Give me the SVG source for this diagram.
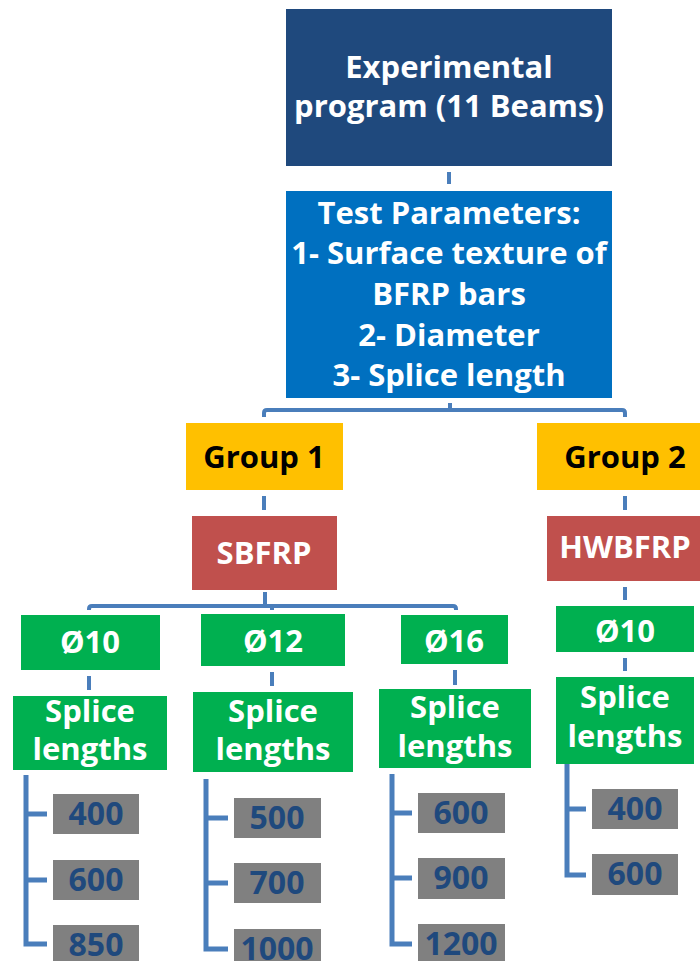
<svg xmlns="http://www.w3.org/2000/svg" width="700" height="961" viewBox="0 0 700 961">
<style>
text{font-family:"Open Sans","Liberation Sans",sans-serif;font-weight:bold;font-size:31px;text-anchor:middle}
.w{fill:#ffffff}
.k{fill:#000000}
.n{fill:#1F497D;font-size:32px}
.c{fill:none;stroke:#4A7EBB;stroke-width:4}
.c5{fill:none;stroke:#4A7EBB;stroke-width:5}
.top{fill:#1F497D}
.blue{fill:#0070C0}
.yel{fill:#FFC000}
.red{fill:#C0504D}
.grn{fill:#00B050}
.gry{fill:#808080}
</style>
<g id="connectors">
<line class="c" x1="449" y1="172" x2="449" y2="184"/>
<line class="c" x1="450" y1="403" x2="450" y2="410"/>
<path class="c" d="M264 417 V413 Q264 410 267 410 H622 Q625 410 625 413 V417"/>
<line class="c" x1="264" y1="496" x2="264" y2="510"/>
<line class="c" x1="625" y1="496" x2="625" y2="510"/>
<line class="c" x1="265" y1="592" x2="265" y2="606"/>
<path class="c" d="M89 610 V609 Q89 606 92 606 H453 Q456 606 456 609 V610"/>
<line class="c" x1="272" y1="606" x2="272" y2="610"/>
<line class="c" x1="625" y1="587" x2="625" y2="600"/>
<line class="c" x1="89" y1="676" x2="89" y2="690"/>
<line class="c" x1="272" y1="672" x2="272" y2="686"/>
<line class="c" x1="455" y1="670" x2="455" y2="685"/>
<line class="c" x1="625" y1="658" x2="625" y2="671"/>
<path class="c5" d="M26 775 V944 H47 M26 814 H47 M26 880 H47"/>
<path class="c5" d="M206 779 V949 H228 M206 818 H228 M206 883 H228"/>
<path class="c5" d="M392 774 V944 H412 M392 813 H412 M392 878 H412"/>
<path class="c5" d="M567 764 V875 H586 M567 809 H586"/>
</g>
<g id="experimental">
<rect class="top" x="286" y="9" width="326" height="157"/>
<text class="w" x="449" y="78">Experimental</text>
<text class="w" x="449" y="117">program (11 Beams)</text>
</g>
<g id="parameters">
<rect class="blue" x="286" y="191" width="326" height="207"/>
<text class="w" x="449" y="224">Test Parameters:</text>
<text class="w" x="449" y="264">1- Surface texture of</text>
<text class="w" x="449" y="305">BFRP bars</text>
<text class="w" x="449" y="346">2- Diameter</text>
<text class="w" x="449" y="386">3- Splice length</text>
</g>
<g id="group1">
<rect class="yel" x="186" y="423" width="157" height="67"/>
<text class="k" x="264" y="468">Group 1</text>
</g>
<g id="group2">
<rect class="yel" x="537" y="423" width="163" height="67"/>
<text class="k" x="625" y="468">Group 2</text>
</g>
<g id="sbfrp">
<rect class="red" x="192" y="516" width="145" height="74"/>
<text class="w" x="264" y="564">SBFRP</text>
</g>
<g id="hwbfrp">
<rect class="red" x="547" y="516" width="153" height="65"/>
<text class="w" x="625" y="558">HWBFRP</text>
</g>
<g id="d10a">
<rect class="grn" x="21" y="615" width="139" height="55"/>
<text class="w" x="90" y="653">Ø10</text>
</g>
<g id="d12">
<rect class="grn" x="201" y="614" width="144" height="52"/>
<text class="w" x="273" y="652">Ø12</text>
</g>
<g id="d16">
<rect class="grn" x="401" y="615" width="107" height="49"/>
<text class="w" x="454" y="652">Ø16</text>
</g>
<g id="d10b">
<rect class="grn" x="556" y="606" width="138" height="46"/>
<text class="w" x="625" y="642">Ø10</text>
</g>
<g id="splice1">
<rect class="grn" x="13" y="696" width="154" height="74"/>
<text class="w" x="90" y="722">Splice</text>
<text class="w" x="90" y="760">lengths</text>
</g>
<g id="splice2">
<rect class="grn" x="193" y="692" width="160" height="80"/>
<text class="w" x="273" y="722">Splice</text>
<text class="w" x="273" y="760">lengths</text>
</g>
<g id="splice3">
<rect class="grn" x="379" y="689" width="152" height="79"/>
<text class="w" x="455" y="718">Splice</text>
<text class="w" x="455" y="757">lengths</text>
</g>
<g id="splice4">
<rect class="grn" x="556" y="677" width="138" height="87"/>
<text class="w" x="625" y="708">Splice</text>
<text class="w" x="625" y="747">lengths</text>
</g>
<g id="l400a"><rect class="gry" x="53" y="794" width="86" height="40"/><text class="n" x="96" y="825">400</text></g>
<g id="l600a"><rect class="gry" x="53" y="860" width="86" height="40"/><text class="n" x="96" y="891">600</text></g>
<g id="l850"><rect class="gry" x="53" y="925" width="86" height="40"/><text class="n" x="96" y="956">850</text></g>
<g id="l500"><rect class="gry" x="234" y="798" width="87" height="40"/><text class="n" x="277" y="829">500</text></g>
<g id="l700"><rect class="gry" x="234" y="863" width="87" height="40"/><text class="n" x="277" y="894">700</text></g>
<g id="l1000"><rect class="gry" x="234" y="929" width="87" height="40"/><text class="n" x="277" y="960">1000</text></g>
<g id="l600b"><rect class="gry" x="418" y="793" width="87" height="40"/><text class="n" x="461" y="824">600</text></g>
<g id="l900"><rect class="gry" x="418" y="858" width="87" height="41"/><text class="n" x="461" y="889">900</text></g>
<g id="l1200"><rect class="gry" x="418" y="924" width="87" height="40"/><text class="n" x="461" y="955">1200</text></g>
<g id="l400b"><rect class="gry" x="592" y="789" width="86" height="40"/><text class="n" x="635" y="820">400</text></g>
<g id="l600c"><rect class="gry" x="592" y="854" width="86" height="41"/><text class="n" x="635" y="885">600</text></g>
</svg>
